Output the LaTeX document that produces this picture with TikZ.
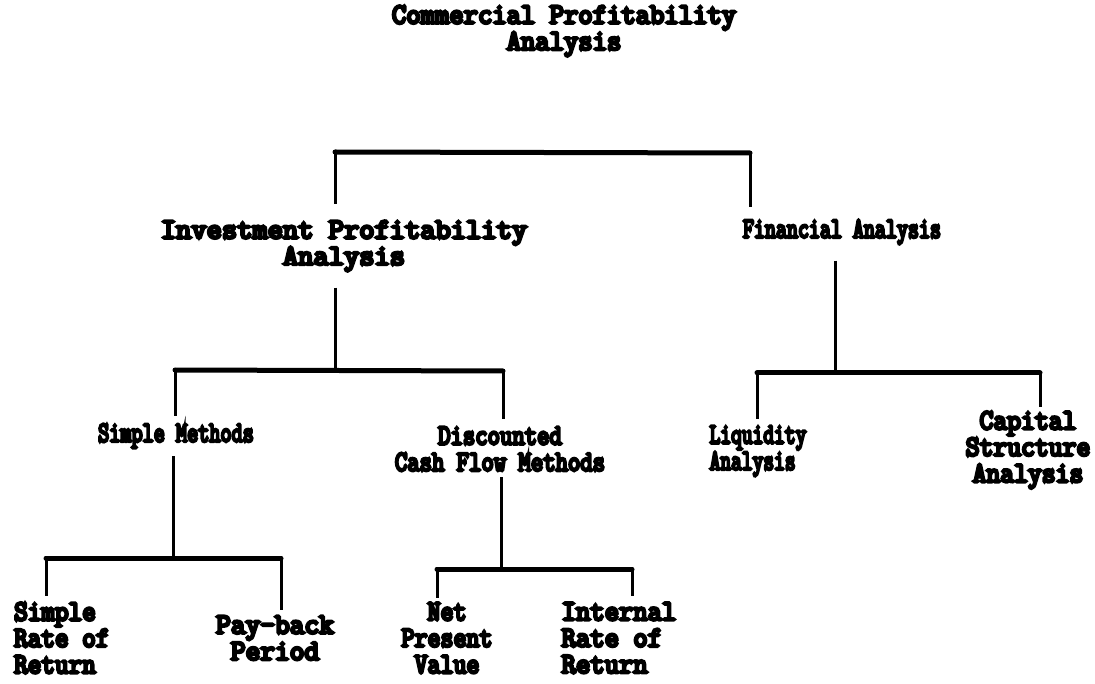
\documentclass[tikz,border=0pt]{standalone}
\usepackage{fontspec}
\newfontfamily\typewriter{Latin Modern Mono}[FakeBold=10]
\begin{document}
\begin{tikzpicture}[x=1pt,y=-1pt,
  lbl/.style={font=\typewriter\fontsize{24}{22}\selectfont, inner sep=0pt,
              align=center, yscale=1.2, transform shape},
  lbll/.style={lbl, align=left},
  bar/.style={line width=5pt, line cap=round},
  stem/.style={line width=3pt}]
\useasboundingbox (0,0) rectangle (1095,684);

% labels
\node[lbl, xscale=1.16] (root) at (564,31) {Commercial Profitability\\Analysis};
\node[lbl, xscale=1.235] (ipa) at (344,246) {Investment Profitability\\Analysis};
\node[lbl, xscale=0.89] (fa) at (842,232) {Financial Analysis};
\node[lbl, xscale=0.9] (sm) at (176,436) {Simple Methods};
\node[lbl, xscale=1.0] (dcf) at (500,449) {Discounted\\Cash Flow Methods};
\node[lbll, xscale=0.87] (liq) at (758,451) {Liquidity\\Analysis};
\node[lbl, xscale=1.12] (cap) at (1028,450) {Capital\\Structure\\Analysis};
\node[lbll, xscale=1.1, anchor=west] (srr) at (14,638) {Simple\\Rate of\\Return};
\node[lbl, xscale=1.19] (pbp) at (275,638) {Pay-back\\Period};
\node[lbl, xscale=1.05] (npv) at (447,638) {Net\\Present\\Value};
\node[lbll, xscale=1.16] (irr) at (619,638) {Internal\\Rate of\\Return};

% level 1 bracket
\coordinate (t1) at (335,152);
\coordinate (t2) at (750,153);
\draw[bar] (t1) -- (t2);
\draw[stem] (t1) -- ([yshift=16pt]ipa.north -| t1);
\draw[stem] (t2) -- ([yshift=12pt]fa.north -| t2);

% investment profitability bracket
\coordinate (i0) at (335,370);
\coordinate (i1) at (175,370);
\coordinate (i2) at (503,371);
\draw[stem] ([yshift=-16pt]ipa.south -| i0) -- (i0);
\draw[bar] (i1) -- (i2);
\draw[stem] (i1) -- ([yshift=8pt]sm.north -| i1);
\draw[stem] (i2) -- ([yshift=8pt]dcf.north -| i2);

% financial analysis bracket
\coordinate (f0) at (835,372);
\coordinate (f1) at (757,373);
\coordinate (f2) at (1040,373);
\draw[stem] ([yshift=-16pt]fa.south -| f0) -- (f0);
\draw[bar] (f1) -- (f2);
\draw[stem] (f1) -- ([yshift=6pt]liq.north -| f1);
\draw[stem] (f2) -- ([yshift=4pt]cap.north -| f2);

% simple methods bracket
\coordinate (s0) at (173,557);
\coordinate (s1) at (46,558);
\coordinate (s2) at (281,558);
\draw[stem] ([yshift=-8pt]sm.south -| s0) -- (s0);
\draw[bar] (s1) -- (s2);
\draw[stem] (s1) -- ([yshift=6pt]srr.north -| s1);
\draw[stem] (s2) -- ([yshift=6pt]pbp.north -| s2);

% discounted cash flow bracket
\coordinate (d0) at (501,567);
\coordinate (d1) at (437,569);
\coordinate (d2) at (632,569);
\draw[stem] ([yshift=-6pt]dcf.south -| d0) -- (d0);
\draw[bar] (d1) -- (d2);
\draw[stem] (d1) -- ([yshift=4pt]npv.north -| d1);
\draw[stem] (d2) -- ([yshift=6pt]irr.north -| d2);
\end{tikzpicture}
\end{document}
